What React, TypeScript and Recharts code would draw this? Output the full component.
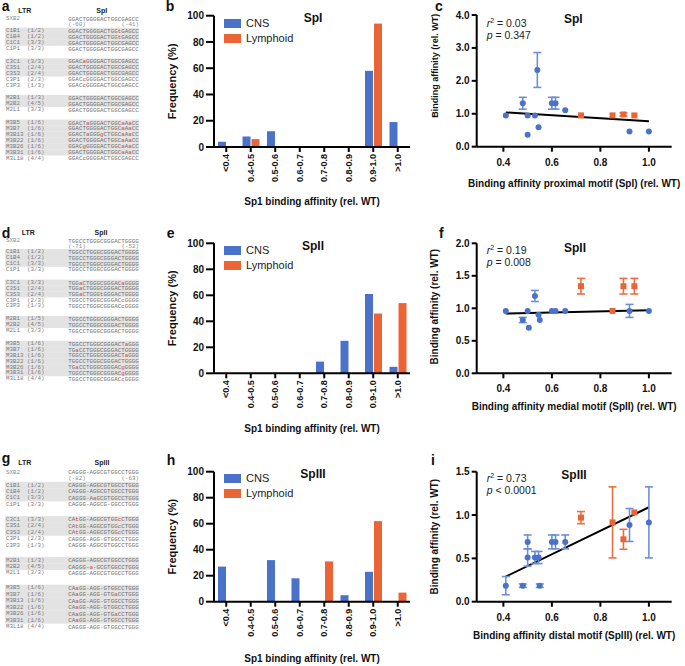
import React from "react";
import {
  BarChart,
  Bar,
  XAxis,
  YAxis,
  Legend,
  ScatterChart,
  Scatter,
  ErrorBar,
  ReferenceLine,
} from "recharts";

const CNS = "#4a72c8";
const LYM = "#eb6436";
const CNS_ERR = "#6d8fd8";
const LYM_ERR = "#ec6f42";
const SANS = "'Liberation Sans', Arial, sans-serif";
const MONO = "'Liberation Mono', 'DejaVu Sans Mono', monospace";

// ---- frequency histograms (b, e, h)
const bins = ["<0.4", "0.4-0.5", "0.5-0.6", "0.6-0.7", "0.7-0.8", "0.8-0.9", "0.9-1.0", ">1.0"];
const freqTicks = [0, 20, 40, 60, 80, 100];
const cnsSpI = [4, 8, 12, 0, 0, 0, 58, 19];
const lymSpI = [0, 6, 0, 0, 0, 0, 94, 0];
const cnsSpII = [0, 0, 0, 0, 9, 25, 61, 5];
const lymSpII = [0, 0, 0, 0, 0, 0, 46, 54];
const cnsSpIII = [27, 0, 32, 18, 0, 5, 23, 0];
const lymSpIII = [0, 0, 0, 0, 31, 0, 62, 7];

// ---- affinity scatter (c, f, i)
const affTicks = [0.4, 0.6, 0.8, 1.0];

const cnsXSpI = [0.41, 0.48, 0.5, 0.5, 0.53, 0.54, 0.545, 0.6, 0.615, 0.655, 0.92, 1.0];
const cnsYSpI = [0.95, 1.32, 0.95, 0.36, 0.95, 2.33, 0.59, 1.32, 1.32, 1.11, 0.46, 0.46];
const cnsErrSpI = [null, 0.18, null, null, null, 0.53, null, 0.18, 0.18, null, null, null];
const lymXSpI = [0.72, 0.85, 0.895, 0.94];
const lymYSpI = [0.95, 0.95, 0.98, 0.95];
const lymErrSpI = [null, null, 0.05, null];
const fitSpI = [{ x: 0.41, y: 1.04 }, { x: 1.0, y: 0.77 }];

const cnsXSpII = [0.41, 0.48, 0.5, 0.505, 0.53, 0.545, 0.55, 0.6, 0.615, 0.655, 0.92, 1.0];
const cnsYSpII = [0.96, 0.82, 0.96, 0.7, 1.19, 0.9, 0.82, 0.96, 0.96, 0.96, 0.96, 0.96];
const cnsErrSpII = [null, 0.04, null, null, 0.085, null, null, null, null, null, 0.1, null];
const lymXSpII = [0.72, 0.85, 0.895, 0.94];
const lymYSpII = [1.34, 0.96, 1.34, 1.34];
const lymErrSpII = [0.12, null, 0.12, 0.12];
const fitSpII = [{ x: 0.41, y: 0.92 }, { x: 1.0, y: 0.97 }];

const cnsXSpIII = [0.41, 0.48, 0.5, 0.5, 0.53, 0.545, 0.55, 0.6, 0.615, 0.655, 0.92, 1.0];
const cnsYSpIII = [0.185, 0.185, 0.69, 0.51, 0.51, 0.51, 0.185, 0.69, 0.69, 0.69, 0.885, 0.915];
const cnsErrSpIII = [0.105, 0.02, 0.08, 0.1, 0.07, 0.07, 0.02, 0.08, 0.08, 0.08, 0.19, 0.41];
const lymXSpIII = [0.72, 0.85, 0.895, 0.94];
const lymYSpIII = [0.97, 0.915, 0.72, 1.03];
const lymErrSpIII = [0.07, 0.41, 0.115, null];
const fitSpIII = [{ x: 0.41, y: 0.29 }, { x: 1.0, y: 1.09 }];

// ---- sequence alignments (a, d, g)
const cloneNames = ["C1B1", "C1B4", "C1C1", "C1P1", "C3C1", "C3S1", "C3S3", "C3P1", "C3P3", "M2B1", "M2B2", "M2L1", "M3B5", "M3B7", "M3B13", "M3B22", "M3B26", "M3B31", "M3L18"];
const groupSizes = [4, 5, 3, 7];
const countsSpI = ["(1/2)", "(1/2)", "(3/3)", "(3/3)", "(3/3)", "(2/4)", "(2/4)", "(2/3)", "(1/3)", "(1/3)", "(4/5)", "(3/3)", "(1/6)", "(1/6)", "(1/6)", "(1/6)", "(1/6)", "(1/6)", "(4/4)"];
const countsSpII = ["(1/2)", "(1/2)", "(3/3)", "(3/3)", "(3/3)", "(2/4)", "(2/4)", "(2/3)", "(1/3)", "(1/5)", "(4/5)", "(3/3)", "(1/6)", "(1/6)", "(1/6)", "(1/6)", "(1/6)", "(1/6)", "(4/4)"];
const countsSpIII = countsSpI;
const seqsSpI = [
  "GGACTGGGGACTGGtGAGCC", "GGACTGGGGACTGGtGAGCC", "GGACTGGGGACTGGCGAGCC", "GGACTGGGGACTGGCGAGCC",
  "GGACaGGGGACTGGCGAGCC", "GGACTGGGGACTGGCGAGCC", "GGACTGGGGACTGGCGAGCC", "GGACcGGGGACTGGCGAGCC", "GGACcGGGGACTGGCGAGCC",
  "GGACTGGGGACTGGCGAGCC", "GGACTGGGGACTGGCGAGCC", "GGACTGGGGACTGGCGAGCC",
  "GGACTaGGGACTGGCaAaCC", "GGACTGGGGACTGGCaAaCC", "GGACTaGGGgCTGGCaAaCC", "GGACTGGGGACTGGCaAaCC", "GGACgGGGGACTGGCaAaCC", "GGACTGGGGACTGGCaAaCC", "GGACcGGGGACTGGCGAGCC",
];
const seqsSpII = [
  "TGGCCTGGGCGGGACTGGGG", "TGGCCTGGGCGGGACTGGGG", "TGGCCTGGGCGGGACTGGGG", "TGGCCTGGGCGGGACTGGGG",
  "TGGaCTGGGCGGGACaGGGG", "TGGaCTGGGCGGGACTGGGG", "TGGaCTGGGtGGGACTGGGG", "TGGCCTGGGCGGGACcGGGG", "TGGCCTGGGCGGGACcGGGG",
  "TGGCCTGGGCGGGACTGGGG", "TGGCCTGGGCGGGACTGGGG", "TGGCCTGGGCGGGACTGGGG",
  "TGGCCTGGGCGGGACTaGGG", "TGaCCTGGGCGGGACTGGGG", "TGGCCTGGGCGGGACTaGGG", "TGGCCTGGGCGGGACTGGGG", "TGaCCTGGGCGGGACgGGGG", "TGGCCTGGGCGGGACgGGGG", "TGGCCTGGGCGGGACcGGGG",
];
const seqsSpIII = [
  "CAGGG-AGGCGTGGCCTGGG", "CAGGG-AGGCGTGGCCTGGG", "CAGGG-AaGCGTGGCCTGGG", "CAGGG-AGGCG-GGCCTGGG",
  "CAtGG-AGGCGTGGcCTGGG", "CAtGG-AGGCGTGGcCTGGG", "CAtGG-AGGCGTGGcCTGGG", "CAGGG-AGG-GTGGCCTGGG", "CAGGG-AGGCGTGGCCTGGG",
  "CAGGG-AGGCGTGGCCTGGG", "CAGGG-a-GCGTGGCCTGGG", "CAGGG-AGGCGTGGCCTGGG",
  "CAaGG-AGG-GTGGCCTGGG", "CAaGG-AGG-GTGaCCTGGG", "CAaGG-AGG-GTGGCCTGGG", "CAaGG-AGG-GTGGCCTGGG", "CAaGG-AGG-GTGaCCTGGG", "CAaGG-AGG-GTGGCCTGGG", "CAGGG-AGG-GTGGCCTGGG",
];

const tickFont = { fontSize: 10, fontWeight: "bold", fill: "#111", fontFamily: SANS };
const axisStroke = { stroke: "#000", strokeWidth: 2 };

function VTitle(props: any) {
  const { viewBox, title, xPos, shift = 0, fsz = 10 } = props;
  const x = viewBox.x + xPos;
  const y = viewBox.y + viewBox.height / 2 + shift;
  return (
    <text x={x} y={y} transform={`rotate(-90 ${x} ${y})`} textAnchor="middle" fontSize={fsz} fontWeight="bold" fill="#111" fontFamily={SANS}>
      {title}
    </text>
  );
}

function HTitle(props: any) {
  const { viewBox, title, base } = props;
  return (
    <text x={viewBox.x + viewBox.width / 2} y={viewBox.y + base} textAnchor="middle" fontSize={10} fontWeight="bold" fill="#111" fontFamily={SANS}>
      {title}
    </text>
  );
}

function RotTick(props: any) {
  const { x, y, payload } = props;
  return (
    <text x={x} y={y} transform={`rotate(-90 ${x} ${y})`} textAnchor="end" dominantBaseline="central" fontSize={9} fontWeight="bold" fill="#111" fontFamily={SANS}>
      {payload.value}
    </text>
  );
}

const FreqLegend = (props: any) => (
  <div style={{ fontFamily: SANS, fontSize: 11, color: "#222" }}>
    {(props.payload || []).map((e: any) => (
      <div key={e.value} style={{ display: "flex", alignItems: "center", height: 15 }}>
        <span style={{ width: 17, height: 9, background: e.color, marginRight: 5 }} />
        <span>{e.value}</span>
      </div>
    ))}
  </div>
);

function FreqPanel({ cns, lym, top, height, plotTop, plotBottom, legendTop, titleBase }: any) {
  const data = bins.map((name, i) => ({ name, CNS: cns[i], Lymphoid: lym[i] }));
  return (
    <div style={{ position: "absolute", left: 150, top, width: 270, height }}>
      <BarChart width={270} height={height} data={data} margin={{ top: plotTop, right: 10, bottom: 0, left: 0 }} barSize={8} barGap={1}>
        <XAxis
          dataKey="name"
          interval={0}
          height={height - plotBottom}
          axisLine={axisStroke}
          tickLine={axisStroke}
          tickSize={5}
          tick={<RotTick />}
          label={<HTitle title="Sp1 binding affinity (rel. WT)" base={titleBase} />}
        />
        <YAxis
          domain={[0, 100]}
          ticks={freqTicks}
          width={64}
          axisLine={axisStroke}
          tickLine={axisStroke}
          tickSize={8}
          tick={tickFont}
          label={<VTitle title="Frequency (%)" xPos={26.5} fsz={11} />}
        />
        <Legend
          layout="vertical"
          align="center"
          verticalAlign="middle"
          wrapperStyle={{ top: legendTop, left: 74, width: 110, height: 30 }}
          content={FreqLegend}
        />
        <Bar dataKey="CNS" fill={CNS} isAnimationActive={false} />
        <Bar dataKey="Lymphoid" fill={LYM} isAnimationActive={false} />
      </BarChart>
    </div>
  );
}

const Dot = (p: any) => <circle cx={p.cx} cy={p.cy} r={3} fill={CNS} />;
const Sq = (p: any) => <rect x={p.cx - 3} y={p.cy - 3} width={6} height={6} fill={LYM} />;

function AffinityPanel(props: any) {
  const { top, height, plotTop, plotBottom, yMax, yTicks, cx, cy, ce, lx, ly, le, fit, xTitle, titleBase, yShift, ySize } = props;
  const cnsPts = cx.map((x: number, i: number) => ({ x, y: cy[i], err: ce[i] }));
  const lymPts = lx.map((x: number, i: number) => ({ x, y: ly[i], err: le[i] }));
  return (
    <div style={{ position: "absolute", left: 410, top, width: 275, height }}>
      <ScatterChart width={275} height={height} margin={{ top: plotTop, right: 13.3, bottom: 0, left: 0 }}>
        <XAxis
          type="number"
          dataKey="x"
          domain={[0.29, 1.094]}
          ticks={affTicks}
          tickFormatter={(v: number) => v.toFixed(1)}
          height={height - plotBottom}
          axisLine={axisStroke}
          tickLine={axisStroke}
          tickSize={5}
          tickMargin={7}
          tick={tickFont}
          label={<HTitle title={xTitle} base={titleBase} />}
        />
        <YAxis
          type="number"
          dataKey="y"
          domain={[0, yMax]}
          ticks={yTicks}
          tickFormatter={(v: number) => v.toFixed(1)}
          width={66.7}
          axisLine={axisStroke}
          tickLine={axisStroke}
          tickSize={5}
          tick={tickFont}
          label={<VTitle title="Binding affinity (rel. WT)" xPos={28} shift={yShift} fsz={ySize} />}
        />
        <ReferenceLine segment={fit} stroke="#000" strokeWidth={2} ifOverflow="visible" />
        <Scatter data={cnsPts.filter((p: any) => p.err != null)} shape={Dot} isAnimationActive={false}>
          <ErrorBar dataKey="err" direction="y" width={4} stroke={CNS_ERR} strokeWidth={1.6} />
        </Scatter>
        <Scatter data={cnsPts.filter((p: any) => p.err == null)} shape={Dot} isAnimationActive={false} />
        <Scatter data={lymPts.filter((p: any) => p.err != null)} shape={Sq} isAnimationActive={false}>
          <ErrorBar dataKey="err" direction="y" width={4} stroke={LYM_ERR} strokeWidth={1.6} />
        </Scatter>
        <Scatter data={lymPts.filter((p: any) => p.err == null)} shape={Sq} isAnimationActive={false} />
      </ScatterChart>
    </div>
  );
}

function SeqTable({ header, hdrX, hdrY, ltrX, wt, posL, posR, counts, seqs, wtY, y0, step, gap }: any) {
  const ys: number[] = [];
  let y = y0;
  groupSizes.forEach((n) => {
    for (let k = 0; k < n; k++) {
      ys.push(y);
      y += step;
    }
    y += gap;
  });
  const seqText = (s: string, yy: number) => (
    <text x={68.3} y={yy} dominantBaseline="central" fontSize={5.8} fontFamily={MONO} fill="#6e6e6e" textLength={70.5} lengthAdjust="spacing">
      {s.split("").map((ch, i) => (
        <tspan key={i} fill={ch !== "-" && ch === ch.toLowerCase() ? "#d0453a" : undefined}>
          {ch}
        </tspan>
      ))}
    </text>
  );
  return (
    <g>
      <text x={ltrX} y={hdrY} fontSize={7} fontWeight="bold" fontFamily={SANS} fill="#222">LTR</text>
      <text x={hdrX} y={hdrY} fontSize={7} fontWeight="bold" fontFamily={SANS} fill="#222" textAnchor="middle">{header}</text>
      <text x={6} y={wtY} dominantBaseline="central" fontSize={5.8} fontFamily={MONO} fill="#8a8a8a">SXB2</text>
      {seqText(wt, wtY)}
      <text x={68.3} y={wtY + 5.7} dominantBaseline="central" fontSize={5.8} fontFamily={MONO} fill="#8a8a8a">{posL}</text>
      <text x={139} y={wtY + 5.7} dominantBaseline="central" fontSize={5.8} fontFamily={MONO} fill="#8a8a8a" textAnchor="end">{posR}</text>
      {cloneNames.map((name, i) => {
        const lymphoid = name[2] === "P" || name[2] === "L";
        return (
          <g key={name}>
            {!lymphoid && <rect x={5} y={ys[i] - step / 2} width={134} height={step + 0.3} fill="#e3e3e3" />}
            <text x={6} y={ys[i]} dominantBaseline="central" fontSize={5.8} fontFamily={MONO} fill="#7a7a7a">{name}</text>
            <text x={27} y={ys[i]} dominantBaseline="central" fontSize={5.8} fontFamily={MONO} fill="#7a7a7a">{counts[i]}</text>
            {seqText(seqs[i], ys[i])}
          </g>
        );
      })}
    </g>
  );
}

function Stats({ x, y, r2, p, pOp }: any) {
  return (
    <g fontSize={10.5} fontFamily={SANS} fill="#222">
      <text x={x} y={y}>
        <tspan fontStyle="italic">r</tspan>
        <tspan dy={-4} fontSize={7}>2</tspan>
        <tspan dy={4}>{` = ${r2}`}</tspan>
      </text>
      <text x={x} y={y + 12}>
        <tspan fontStyle="italic">p</tspan>
        <tspan>{` ${pOp} ${p}`}</tspan>
      </text>
    </g>
  );
}

export default function App() {
  const letter = { fontSize: 14, fontWeight: "bold" as const, fontFamily: SANS, fill: "#111" };
  const title = { fontSize: 12, fontWeight: "bold" as const, fontFamily: SANS, fill: "#111", textAnchor: "middle" as const };
  return (
    <div style={{ position: "absolute", left: 0, top: 0, width: 685, height: 666, background: "#fff", fontFamily: SANS }}>
      <FreqPanel cns={cnsSpI} lym={lymSpI} top={0} height={215} plotTop={15.7} plotBottom={147} legendTop={15.5} titleBase={57.5} />
      <FreqPanel cns={cnsSpII} lym={lymSpII} top={215} height={220} plotTop={28.3} plotBottom={158.3} legendTop={27.5} titleBase={58.7} />
      <FreqPanel cns={cnsSpIII} lym={lymSpIII} top={430} height={236} plotTop={41.7} plotBottom={171.7} legendTop={40.5} titleBase={60.5} />

      <AffinityPanel top={0} height={215} plotTop={15} plotBottom={146.7} yMax={4} yTicks={[0, 1, 2, 3, 4]}
        cx={cnsXSpI} cy={cnsYSpI} ce={cnsErrSpI} lx={lymXSpI} ly={lymYSpI} le={lymErrSpI} fit={fitSpI}
        xTitle="Binding affinity proximal motif (SpI) (rel. WT)" titleBase={39.8} yShift={-15} ySize={9} />
      <AffinityPanel top={215} height={215} plotTop={28.3} plotBottom={158.3} yMax={2} yTicks={[0, 0.5, 1, 1.5, 2]}
        cx={cnsXSpII} cy={cnsYSpII} ce={cnsErrSpII} lx={lymXSpII} ly={lymYSpII} le={lymErrSpII} fit={fitSpII}
        xTitle="Binding affinity medial motif (SpII) (rel. WT)" titleBase={36.7} yShift={-1.6} ySize={10} />
      <AffinityPanel top={430} height={236} plotTop={41.7} plotBottom={171.7} yMax={1.5} yTicks={[0, 0.5, 1, 1.5]}
        cx={cnsXSpIII} cy={cnsYSpIII} ce={cnsErrSpIII} lx={lymXSpIII} ly={lymYSpIII} le={lymErrSpIII} fit={fitSpIII}
        xTitle="Binding affinity distal motif (SpIII) (rel. WT)" titleBase={36.8} yShift={0} ySize={10} />

      <svg width={685} height={666} style={{ position: "absolute", left: 0, top: 0, pointerEvents: "none" }}>
        <SeqTable header="SpI" hdrX={101.7} hdrY={12.5} ltrX={18.3} wt="GGACTGGGGACTGGCGAGCC" posL="(-60)" posR="(-41)"
          counts={countsSpI} seqs={seqsSpI} wtY={18.6} y0={30.7} step={5.95} gap={6.8} />
        <SeqTable header="SpII" hdrX={101} hdrY={235} ltrX={21.7} wt="TGGCCTGGGCGGGACTGGGG" posL="(-71)" posR="(-52)"
          counts={countsSpII} seqs={seqsSpII} wtY={240.6} y0={251.9} step={5.85} gap={7.2} />
        <SeqTable header="SpIII" hdrX={102} hdrY={465} ltrX={18.3} wt="CAGGG-AGGCGTGGCCTGGG" posL="(-82)" posR="(-63)"
          counts={countsSpIII} seqs={seqsSpIII} wtY={472.3} y0={485} step={6.45} gap={8.5} />

        <text x={1.7} y={10.7} {...letter}>a</text>
        <text x={165.7} y={10.7} {...letter}>b</text>
        <text x={435} y={10.7} {...letter}>c</text>
        <text x={1.7} y={238.3} {...letter}>d</text>
        <text x={166.7} y={238.3} {...letter}>e</text>
        <text x={439} y={238.3} {...letter}>f</text>
        <text x={1.7} y={462.5} {...letter}>g</text>
        <text x={166.7} y={465} {...letter}>h</text>
        <text x={431} y={465} {...letter}>i</text>

        <text x={313} y={21.8} {...title}>SpI</text>
        <text x={313} y={250.3} {...title}>SpII</text>
        <text x={313} y={478.3} {...title}>SpIII</text>
        <text x={573.3} y={22.6} {...title}>SpI</text>
        <text x={575} y={251.6} {...title}>SpII</text>
        <text x={574} y={478.6} {...title}>SpIII</text>

        <Stats x={486.7} y={27.3} r2="0.03" pOp="=" p="0.347" />
        <Stats x={486.7} y={254} r2="0.19" pOp="=" p="0.008" />
        <Stats x={486.7} y={481.7} r2="0.73" pOp="<" p="0.0001" />
      </svg>
    </div>
  );
}
